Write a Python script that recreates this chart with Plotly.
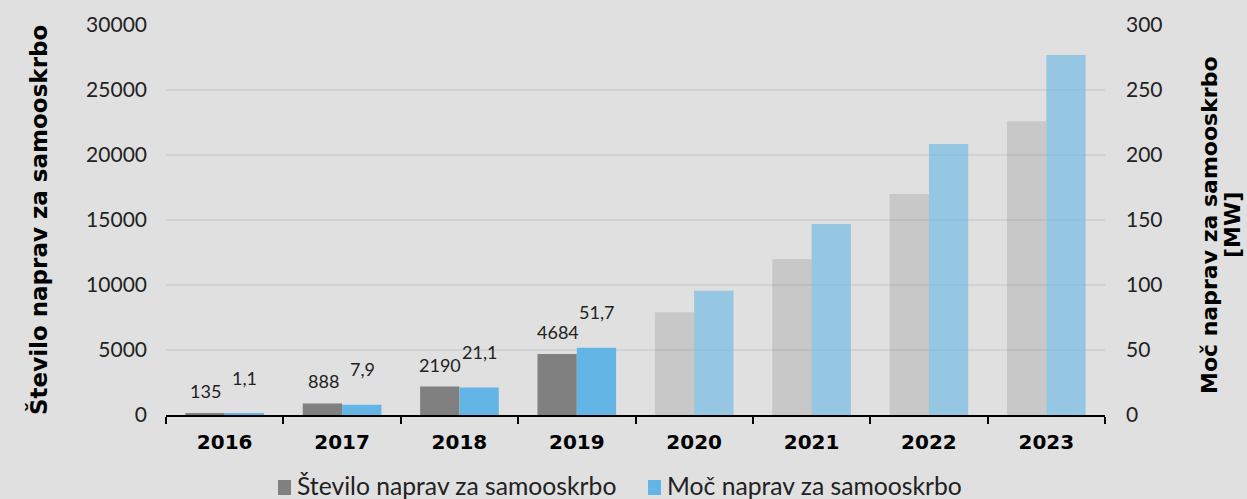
import plotly.graph_objects as go

years = ["2016", "2017", "2018", "2019", "2020", "2021", "2022", "2023"]
stevilo = [135, 888, 2190, 4684, 7900, 12000, 17000, 22600]
moc = [1.1, 7.9, 21.1, 51.7, 95.5, 147, 208.5, 277]
stevilo_labels = ["135", "888", "2190", "4684", "", "", "", ""]
moc_labels = ["1,1", "7,9", "21,1", "51,7", "", "", "", ""]
name_st = "Število naprav za samooskrbo"
name_moc = "Moč naprav za samooskrbo"
y1_title = "Število naprav za samooskrbo"
y2_title_lines = ["Moč naprav za samooskrbo", "[MW]"]

n_hist = 4
GREY = "#808080"
BLUE = "#62b5e5"
grey_cols = [GREY] * n_hist + ["rgba(128,128,128,0.25)"] * (len(years) - n_hist)
blue_cols = [BLUE] * n_hist + ["rgba(98,181,229,0.6)"] * (len(years) - n_hist)

FONT = "Lato"
BOLD = "DejaVu Sans"
BG = "#e0e0e0"
W, H = 1247, 499
ML, MR, MT, MB = 166, 142, 25, 84
PW, PH = W - ML - MR, H - MT - MB


def px_x(p):
    return (p - ML) / PW


def px_y(p):
    return (H - MB - p) / PH


fig = go.Figure()
fig.add_trace(go.Bar(x=years, y=stevilo, name=name_st, marker=dict(color=grey_cols, line=dict(width=0)),
                     offsetgroup="a", yaxis="y", showlegend=False))
fig.add_trace(go.Bar(x=years, y=moc, name=name_moc, marker=dict(color=blue_cols, line=dict(width=0)),
                     offsetgroup="b", yaxis="y2", showlegend=False))

for i, (v, t) in enumerate(zip(stevilo, stevilo_labels)):
    if t:
        fig.add_annotation(x=i, y=v, xref="x", yref="y", text=t, showarrow=False,
                           xshift=-19, yshift=22, font=dict(family=FONT, size=18, color="#222"))
for i, (v, t) in enumerate(zip(moc, moc_labels)):
    if t:
        fig.add_annotation(x=i, y=v, xref="x", yref="y2", text=t, showarrow=False,
                           xshift=20, yshift=36, font=dict(family=FONT, size=18, color="#222"))

# axis titles
fig.add_annotation(x=px_x(38), y=0.5, xref="paper", yref="paper", xanchor="center", yanchor="middle",
                   text=y1_title, textangle=-90,
                   showarrow=False, font=dict(family=BOLD, size=23, color="black", weight="bold"))
for xp, line in zip([1210, 1233], y2_title_lines):
    fig.add_annotation(x=px_x(xp), y=px_y(225), xref="paper", yref="paper", xanchor="center",
                       yanchor="middle", text=line, textangle=-90, showarrow=False,
                       font=dict(family=BOLD, size=22, color="black", weight="bold"))

# legend (swatch + label)
for sx, col, name in [(278, GREY, name_st), (648, BLUE, name_moc)]:
    fig.add_shape(type="rect", xref="paper", yref="paper",
                  x0=px_x(sx), x1=px_x(sx + 13), y0=px_y(495), y1=px_y(480),
                  fillcolor=col, line=dict(width=0))
    fig.add_annotation(x=px_x(sx + 17), y=px_y(485), xref="paper", yref="paper", xanchor="left",
                       yanchor="middle", text=name, showarrow=False,
                       font=dict(family=FONT, size=24.7, color="#222"))

fig.update_layout(
    width=W, height=H,
    paper_bgcolor=BG, plot_bgcolor=BG,
    margin=dict(l=ML, r=MR, t=MT, b=MB),
    barmode="group", bargap=0.33, bargroupgap=0,
    showlegend=False,
    font=dict(family=FONT, size=20, color="#222"),
    xaxis=dict(type="category", range=[-0.5, len(years) - 0.5], showgrid=False, showline=True,
               linecolor="black", linewidth=2,
               ticks="outside", tickson="boundaries", ticklen=7, tickwidth=2, tickcolor="black",
               ticklabelstandoff=8,
               tickfont=dict(family=BOLD, size=20, color="black", weight="bold")),
    yaxis=dict(range=[0, 30000], dtick=5000, tickformat="d", showgrid=True, gridcolor="#d2d2d6", gridwidth=2,
               zeroline=False, showline=False, tickfont=dict(family=FONT, size=21, color="#222"),
               ticklabelstandoff=18),
    yaxis2=dict(range=[0, 300], dtick=50, tickformat="d", overlaying="y", side="right", showgrid=False,
                zeroline=False, showline=False, tickfont=dict(family=FONT, size=21, color="#222"),
                ticklabelstandoff=20),
)

fig.write_html("out.html", post_script="document.body.style.margin='0';",
               config={"displayModeBar": False})
